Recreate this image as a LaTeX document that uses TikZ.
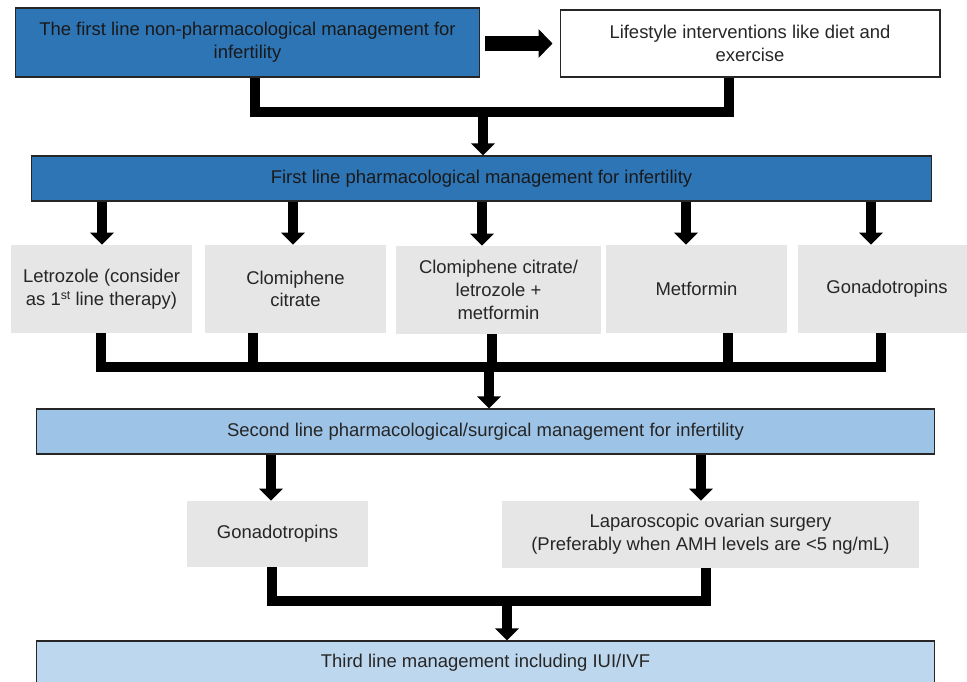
\documentclass[tikz,border=0pt]{standalone}
\usepackage{fontspec}
\setmainfont{Liberation Sans}
\usepackage{xcolor}
\usetikzlibrary{arrows.meta}

\definecolor{darkblue}{HTML}{2E75B6}
\definecolor{midblue}{HTML}{9DC3E6}
\definecolor{paleblue}{HTML}{BDD7EE}
\definecolor{lightgrey}{HTML}{E6E6E6}
\definecolor{textgrey}{HTML}{262626}

\begin{document}
\begin{tikzpicture}[x=0.02cm, y=-0.02cm,
    every node/.style={font=\fontsize{10.5}{12.9}\selectfont, text=textgrey, align=center, inner sep=0pt},
    box/.style={draw=black!85, line width=0.6pt, minimum height=0.9cm},
    greybox/.style={fill=lightgrey, minimum width=3.62cm, minimum height=1.76cm},
    bar/.style={line width=0.21cm, line join=miter},
    flow/.style={line width=0.2cm, -{Triangle[length=0.24cm,width=0.46cm]}},
    bigflow/.style={line width=0.3cm, -{Triangle[length=0.28cm,width=0.56cm]}}]
    \path[use as bounding box] (0,0) rectangle (967,681);
    \clip (0,0) rectangle (967,681);

    \node[box, fill=darkblue, text=black!90, minimum width=9.3cm, minimum height=1.38cm] (nonpharm) at (247.5,42.5) {The first line non-pharmacological management for\\infertility};
    \node[box, fill=white, minimum width=7.6cm, minimum height=1.34cm] (life) at (750,43.5) {Lifestyle interventions like diet and\\exercise};
    \node[box, fill=darkblue, text=black!90, minimum width=18.02cm] (first) at (481.5,178.5) {First line pharmacological management for infertility};

    \node[greybox] (letro) at (101.5,289) {Letrozole (consider\\as 1\raisebox{0.55ex}{\fontsize{7}{8}\selectfont st} line therapy)};
    \node[greybox] (clomi) at (295.5,289) {Clomiphene\\citrate};
    \node[greybox, minimum width=4.1cm] (combo) at (498.5,290) {Clomiphene citrate/\\letrozole +\\metformin};
    \node[greybox] (metf) at (696.5,289) {Metformin};
    \node[greybox, minimum width=3.56cm] (gonadA) at (887,289) {Gonadotropins};

    \node[box, fill=midblue, minimum width=17.98cm] (second) at (485.5,431.5) {Second line pharmacological/surgical management for infertility};
    \node[greybox, minimum height=1.32cm] (gonadB) at (277.5,534) {Gonadotropins};
    \node[greybox, minimum width=8.34cm, minimum height=1.34cm] (lapa) at (710.5,534.5) {Laparoscopic ovarian surgery\\(Preferably when AMH levels are <5 ng/mL)};
    \node[box, fill=paleblue, minimum width=17.98cm, minimum height=0.86cm] (third) at (485.5,662.5) {Third line management including IUI/IVF};

    % first line -> lifestyle, then both down
    \draw[bigflow, shorten <=0.1cm, shorten >=0.14cm] (nonpharm.east |- life.west) -- (life.west);
    \coordinate (j1) at (483,112);
    \draw[bar] (nonpharm.south -| 255,0) |- (j1) -| (life.south -| 729,0);
    \draw[flow] (j1) -- (j1 |- first.north);

    % pharmacological options
    \foreach \col/\name in {102/letro, 293/clomi, 482/combo, 686/metf, 871/gonadA}
        \draw[flow] (first.south -| \col,0) -- (\name.north -| \col,0);
    \coordinate (j2) at (489,367);
    \draw[bar] (letro.south -| 101,0) |- (j2) -| (gonadA.south -| 881,0);
    \foreach \col/\name in {253/clomi, 492/combo, 728/metf}
        \draw[bar] (\name.south -| \col,0) -- (j2 -| \col,0);
    \draw[flow] (j2) -- (j2 |- second.north);

    % second line options
    \foreach \col/\name in {271/gonadB, 701/lapa}
        \draw[flow] (second.south -| \col,0) -- (\name.north -| \col,0);
    \coordinate (j3) at (507,601);
    \draw[bar] (gonadB.south -| 272,0) |- (j3) -| (lapa.south -| 706,0);
    \draw[flow] (j3) -- (j3 |- third.north);

\end{tikzpicture}
\end{document}
